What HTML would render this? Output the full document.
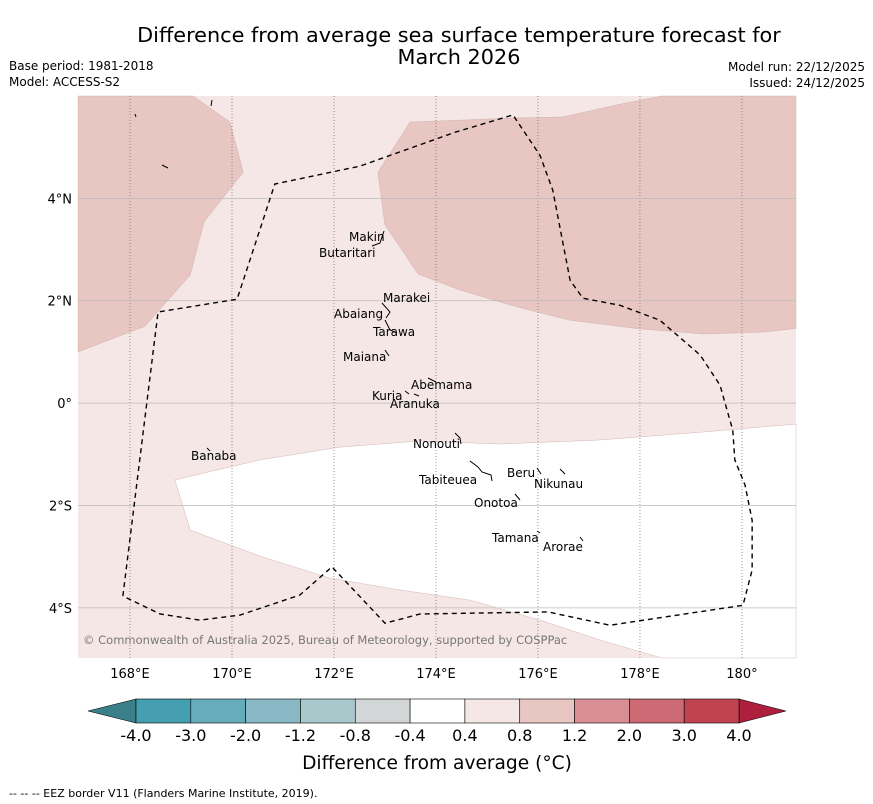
<!DOCTYPE html>
<html><head><meta charset="utf-8"><style>
body{margin:0;background:#fff;font-family:"Liberation Sans","DejaVu Sans",sans-serif;}
#wrap{position:relative;width:873px;height:804px;overflow:hidden;}
</style></head><body>
<div id="wrap">
<svg id="svg" width="873" height="804" xmlns="http://www.w3.org/2000/svg" style="font-family:'DejaVu Sans','Liberation Sans',sans-serif">
<text x="459" y="42" font-size="20.8" text-anchor="middle">Difference from average sea surface temperature forecast for</text>
<text x="459" y="64" font-size="20.8" text-anchor="middle">March 2026</text>
<text x="9" y="70" font-size="12">Base period: 1981-2018</text>
<text x="9" y="86" font-size="12">Model: ACCESS-S2</text>
<text x="865" y="71" font-size="12" text-anchor="end">Model run: 22/12/2025</text>
<text x="865" y="87" font-size="12" text-anchor="end">Issued: 24/12/2025</text>
<g id="map"></g>
<g id="cbar"></g>
<text x="437" y="769" font-size="18.6" text-anchor="middle">Difference from average (°C)</text>
<text x="9" y="797" font-size="11">--  --  -- EEZ border V11 (Flanders Marine Institute, 2019).</text>
</svg>
</div>
<script>
const lonTicks=[168,170,172,174,176,178,180];
const lonLabels=["168°E","170°E","172°E","174°E","176°E","178°E","180°"];
const latTicks=[4,2,0,-2,-4];
const latLabels=["4°N","2°N","0°","2°S","4°S"];
const patchWestLon=[166.98,169.24,169.96,170.22,169.45,169.18,168.29,166.98];
const patchWestLat=[6.0,6.0,5.49,4.51,3.54,2.5,1.5,1.0];
const patchEastLon=[173.49,175.55,176.49,177.61,178.43,181.06,181.06,180.45,179.27,178.0,176.63,175.55,174.47,173.65,173.0,172.86];
const patchEastLat=[5.49,5.57,5.59,5.84,6.0,6.0,1.46,1.39,1.35,1.45,1.62,1.89,2.21,2.52,3.48,4.51];
const whiteLon=[168.88,170.55,172.12,173.69,175.25,177.22,179.18,181.06,181.06,178.43,177.22,176.04,174.67,173.29,171.92,170.55,169.18];
const whiteLat=[-1.5,-1.11,-0.86,-0.74,-0.80,-0.72,-0.57,-0.41,-4.98,-4.98,-4.63,-4.24,-3.85,-3.65,-3.42,-2.99,-2.48];
const eezLon=[167.86,168.55,170.10,170.84,172.51,174.37,175.51,176.04,176.29,176.63,176.88,177.61,178.39,179.18,179.57,179.82,179.86,180.06,180.20,180.20,180.02,177.41,176.20,173.69,173.0,171.96,171.33,170.16,169.37,168.59,167.86];
const eezLat=[-3.77,1.78,2.03,4.28,4.63,5.29,5.63,4.84,4.16,2.40,2.05,1.91,1.62,0.94,0.35,-0.53,-1.11,-1.60,-2.29,-3.26,-3.95,-4.34,-4.08,-4.12,-4.30,-3.20,-3.75,-4.14,-4.24,-4.12,-3.77];
const cbLabels=["-4.0","-3.0","-2.0","-1.2","-0.8","-0.4","0.4","0.8","1.2","2.0","3.0","4.0"];
const cbColors=["#469fb0","#67acba","#88b8c3","#a8c8cc","#d3d6d6","#ffffff","#f5e7e6","#e8c6c2","#d98e96","#cc6b74","#c0444f"];

const NS="http://www.w3.org/2000/svg";
const X0=78,X1=796,Y0=96,Y1=658;
const lonMin=166.98,lonMax=181.06,latMax=6.0,latMin=-4.98;
function xs(l){return X0+(l-lonMin)/(lonMax-lonMin)*(X1-X0);}
function ys(l){return Y0+(latMax-l)/(latMax-latMin)*(Y1-Y0);}
const map=document.getElementById('map');
function mk(t,a,p){const e=document.createElementNS(NS,t);for(const k in a)e.setAttribute(k,a[k]);(p||map).appendChild(e);return e;}
let bg=mk('rect',{x:X0,y:Y0,width:X1-X0,height:Y1-Y0,fill:'#f5e7e6'});


function poly(lo,la,fill,name){const pts=lo.map((v,i)=>xs(v)+','+ys(la[i])).join(' ');const p=mk('polygon',{points:pts,fill:fill,stroke:'#c8a8a4','stroke-width':0.4});

}
poly(patchWestLon,patchWestLat,'#e8c6c2','anomaly-patch-west');
poly(patchEastLon,patchEastLat,'#e8c6c2','anomaly-patch-east');
poly(whiteLon,whiteLat,'#ffffff','anomaly-neutral-region');
lonTicks.forEach((v,i)=>{const l=mk('line',{x1:xs(v),x2:xs(v),y1:Y0,y2:Y1,stroke:'#555','stroke-width':0.6,'stroke-dasharray':'1,2'});


const t=mk('text',{x:xs(v),y:Y1+20,'font-size':13,'text-anchor':'middle'});t.textContent=lonLabels[i];

});
latTicks.forEach((v,i)=>{const l=mk('line',{x1:X0,x2:X1,y1:ys(v),y2:ys(v),stroke:'#bbb','stroke-width':0.8});


const t=mk('text',{x:72,y:ys(v)+5,'font-size':13,'text-anchor':'end'});t.textContent=latLabels[i];

});
const ez=mk('polyline',{points:eezLon.map((v,i)=>xs(v)+','+ys(eezLat[i])).join(' '),fill:'none',stroke:'#000','stroke-width':1.4,'stroke-dasharray':'5,4'});


const coasts=[[384,231,380,243,372,246],[382,303,390,312,386,318],[385,320,390,330,397,333],[385,350,389,356],[428,378,436,382],[405,391,409,394],[414,394,419,396],[455,433,460,438,461,444],[470,461,478,467,482,472,491,475,492,481],[537,468,541,474],[560,469,565,474],[515,494,520,500],[537,531,540,533],[580,537,583,541],[207,448,210,451],[212,100,211,106],[135,114,136,117],[162,165,168,168]];
coasts.forEach(c=>{const p=[];for(let i=0;i<c.length;i+=2)p.push(c[i]+','+c[i+1]);const pl=mk('polyline',{points:p.join(' '),fill:'none',stroke:'#000','stroke-width':1});

});
const labs=[["Makin",349,241],["Butaritari",319,257],["Marakei",383,302],["Abaiang",334,318],["Tarawa",373,336],["Maiana",343,361],["Abemama",411,389],["Kuria",372,400],["Aranuka",390,408],["Nonouti",413,448],["Tabiteuea",419,484],["Beru",507,477],["Nikunau",534,488],["Onotoa",474,507],["Tamana",492,542],["Arorae",543,551],["Banaba",191,460]];
labs.forEach(a=>{const t=mk('text',{x:a[1],y:a[2],'font-size':12});t.textContent=a[0];

});
const cp=mk('text',{x:83,y:644,'font-size':11.5,fill:'#777'});cp.textContent="© Commonwealth of Australia 2025, Bureau of Meteorology, supported by COSPPac";


const cb=document.getElementById('cbar');
const CB0=136,CB1=739,CBy=699,CBh=24,w=(CB1-CB0)/cbColors.length;
let a1=mk('polygon',{points:`${CB0},${CBy} ${CB0},${CBy+CBh} 88,${CBy+CBh/2}`,fill:'#3a7f89',stroke:'#000','stroke-width':0.6},cb);


let a2=mk('polygon',{points:`${CB1},${CBy} ${CB1},${CBy+CBh} 786,${CBy+CBh/2}`,fill:'#ad1f3d',stroke:'#000','stroke-width':0.6},cb);


cbColors.forEach((c,i)=>{const r=mk('rect',{x:CB0+i*w,y:CBy,width:w,height:CBh,fill:c,stroke:'#000','stroke-width':0.6},cb);

});
cbLabels.forEach((s,i)=>{const t=mk('text',{x:CB0+i*w,y:CBy+CBh+18,'font-size':16,'text-anchor':'middle'},cb);t.textContent=s;

});
</script>
</body></html>
